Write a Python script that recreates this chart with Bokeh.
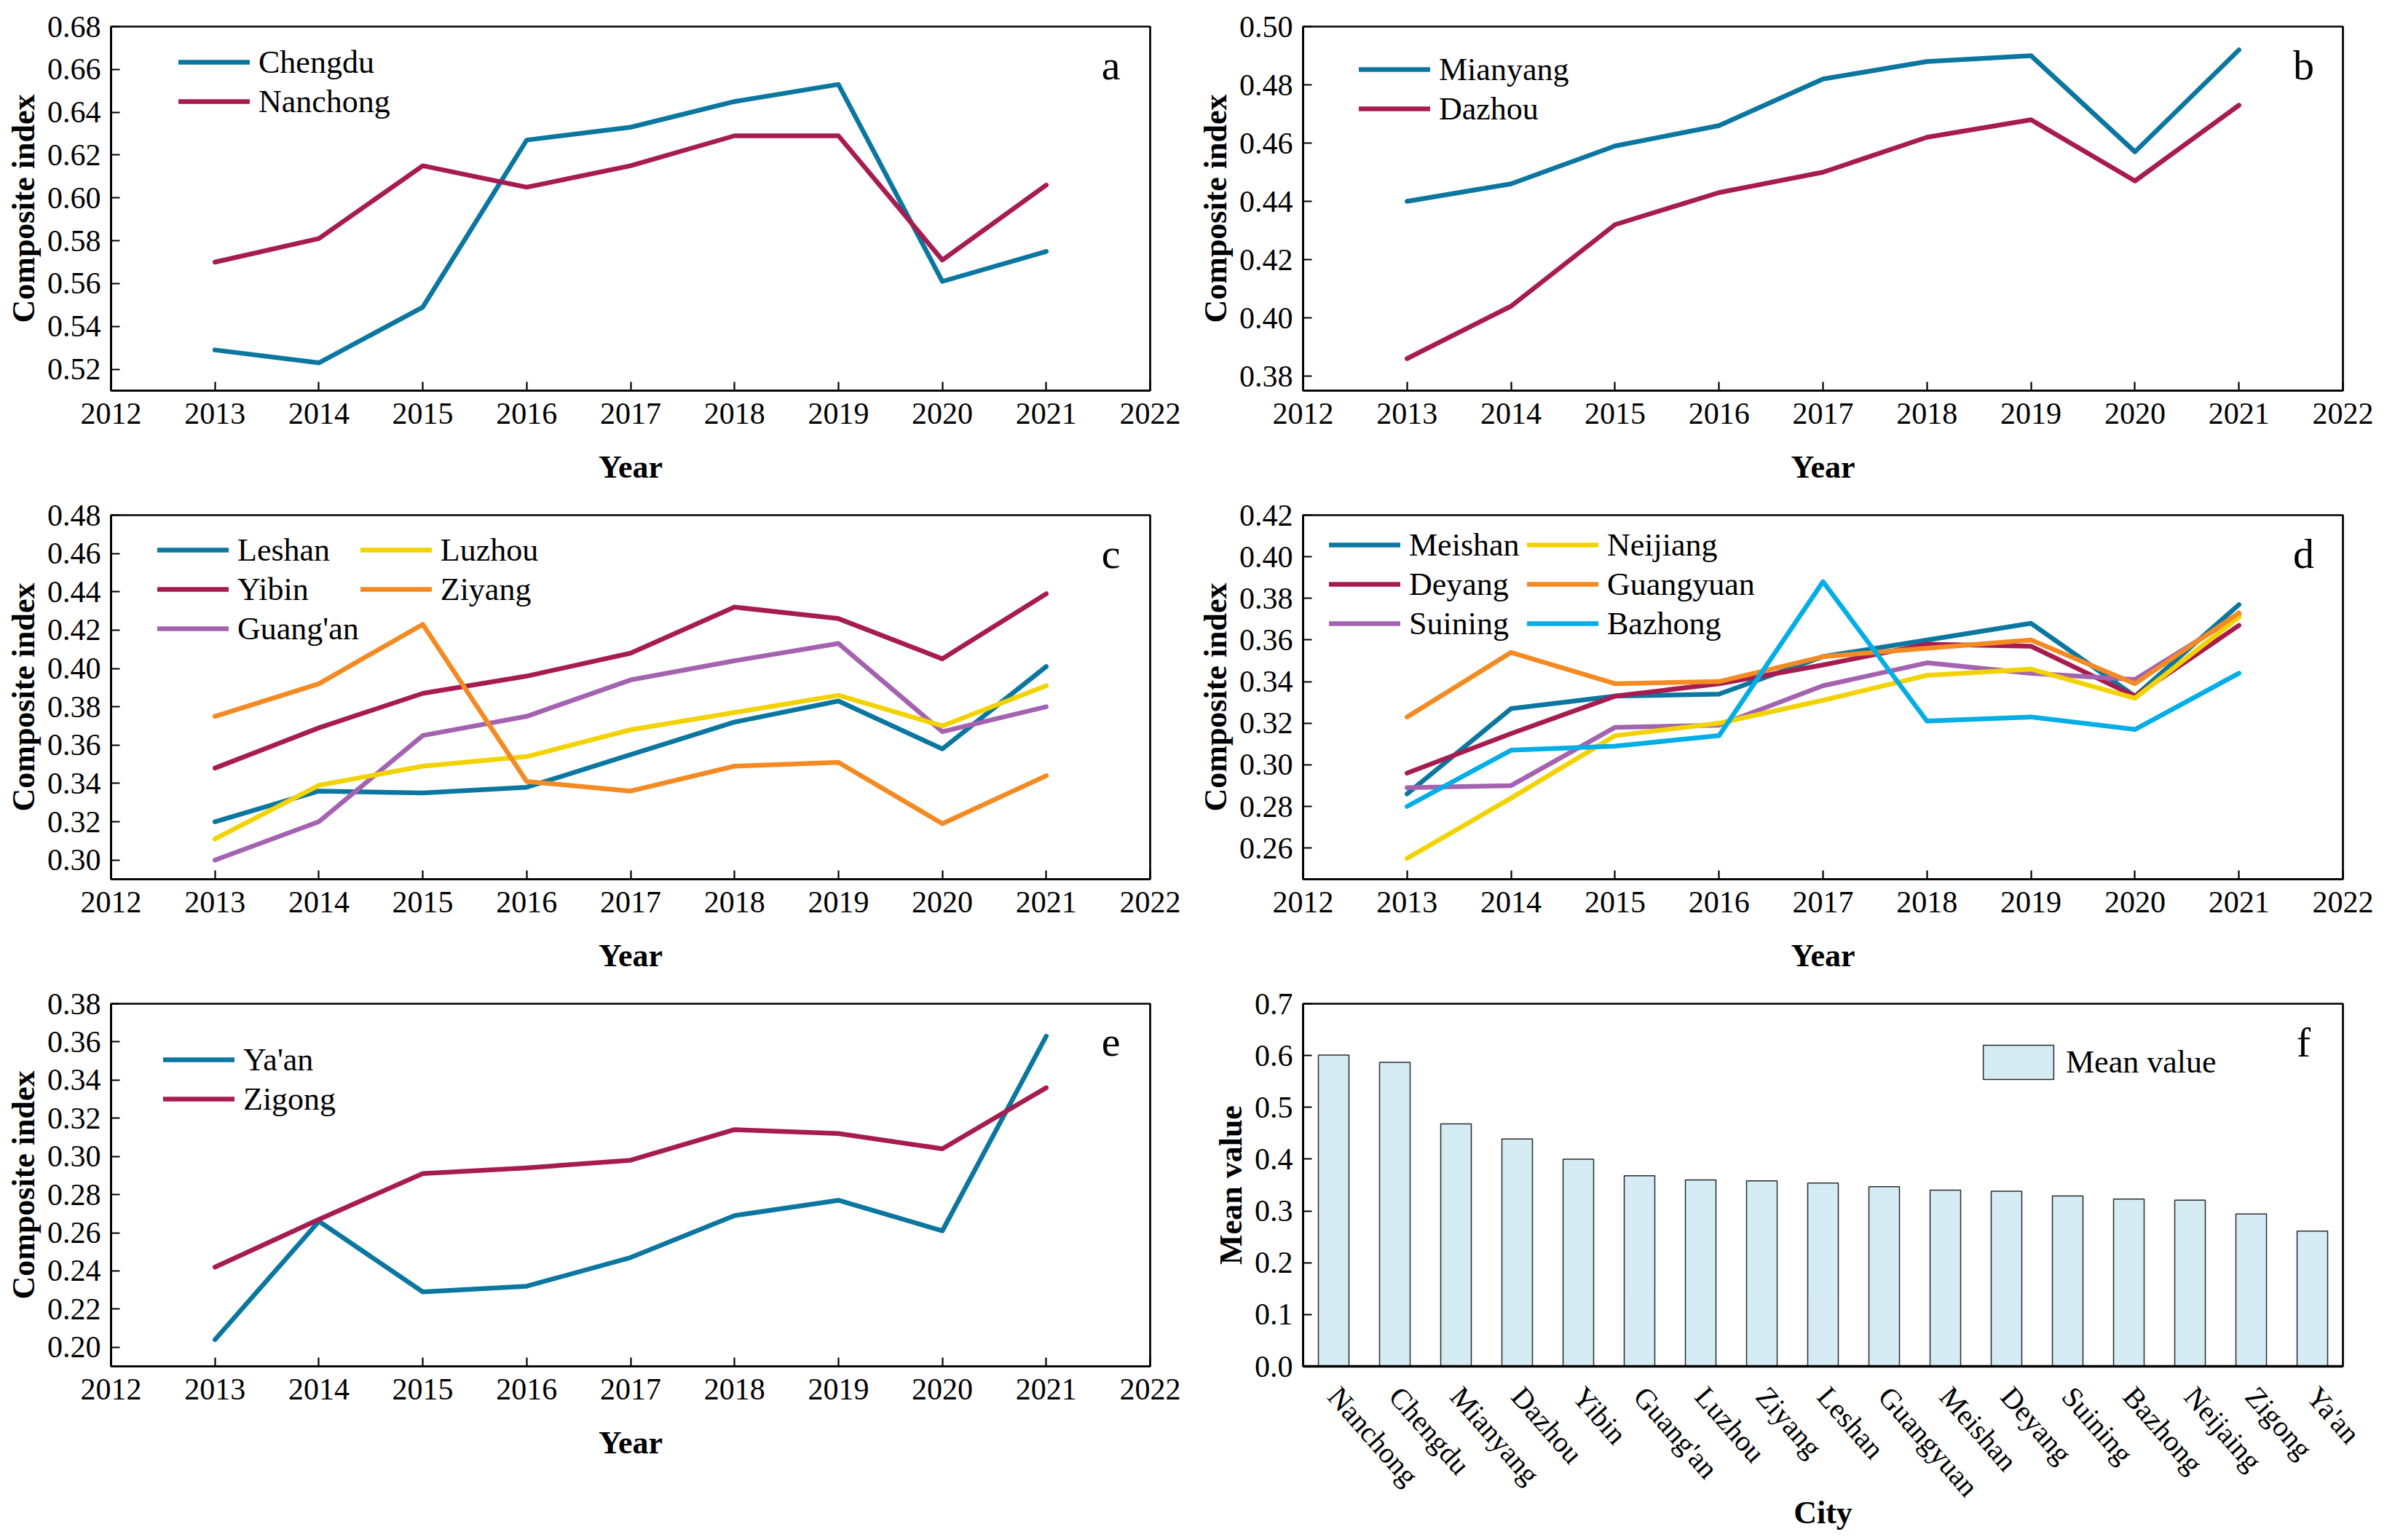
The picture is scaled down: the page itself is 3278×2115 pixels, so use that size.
from bokeh.plotting import figure
from bokeh.models import (Range1d, FactorRange, FixedTicker, NumeralTickFormatter,
                          Legend, LegendItem, Label)
from bokeh.layouts import column, row
from bokeh.embed import file_html
from bokeh.resources import INLINE

# ---------------- data ----------------
YEARS = [2013, 2014, 2015, 2016, 2017, 2018, 2019, 2020, 2021]
YEAR_TICKS = [2012, 2013, 2014, 2015, 2016, 2017, 2018, 2019, 2020, 2021, 2022]

# panel a
CHENGDU = [0.529, 0.523, 0.549, 0.627, 0.633, 0.645, 0.653, 0.561, 0.575]
NANCHONG = [0.570, 0.581, 0.615, 0.605, 0.615, 0.629, 0.629, 0.571, 0.606]
TICKS_A = [0.52, 0.54, 0.56, 0.58, 0.60, 0.62, 0.64, 0.66, 0.68]

# panel b
MIANYANG = [0.440, 0.446, 0.459, 0.466, 0.482, 0.488, 0.490, 0.457, 0.492]
DAZHOU = [0.386, 0.404, 0.432, 0.443, 0.450, 0.462, 0.468, 0.447, 0.473]
TICKS_B = [0.38, 0.40, 0.42, 0.44, 0.46, 0.48, 0.50]

# panel c
LESHAN = [0.320, 0.336, 0.335, 0.338, 0.355, 0.372, 0.383, 0.358, 0.401]
LUZHOU = [0.311, 0.339, 0.349, 0.354, 0.368, 0.377, 0.386, 0.370, 0.391]
YIBIN = [0.348, 0.369, 0.387, 0.396, 0.408, 0.432, 0.426, 0.405, 0.439]
ZIYANG = [0.375, 0.392, 0.423, 0.341, 0.336, 0.349, 0.351, 0.319, 0.344]
GUANGAN = [0.300, 0.320, 0.365, 0.375, 0.394, 0.404, 0.413, 0.367, 0.380]
TICKS_C = [0.30, 0.32, 0.34, 0.36, 0.38, 0.40, 0.42, 0.44, 0.46, 0.48]

# panel d
MEISHAN = [0.286, 0.327, 0.333, 0.334, 0.352, 0.360, 0.368, 0.333, 0.377]
NEIJIANG = [0.255, 0.284, 0.314, 0.320, 0.331, 0.343, 0.346, 0.332, 0.371]
DEYANG = [0.296, 0.315, 0.333, 0.339, 0.348, 0.358, 0.357, 0.333, 0.367]
GUANGYUAN = [0.323, 0.354, 0.339, 0.340, 0.352, 0.356, 0.360, 0.339, 0.373]
SUINING = [0.289, 0.290, 0.318, 0.319, 0.338, 0.349, 0.344, 0.341, 0.372]
BAZHONG = [0.280, 0.307, 0.309, 0.314, 0.388, 0.321, 0.323, 0.317, 0.344]
TICKS_D = [0.26, 0.28, 0.30, 0.32, 0.34, 0.36, 0.38, 0.40, 0.42]

# panel e
YAAN = [0.204, 0.266, 0.229, 0.232, 0.247, 0.269, 0.277, 0.261, 0.363]
ZIGONG = [0.242, 0.267, 0.291, 0.294, 0.298, 0.314, 0.312, 0.304, 0.336]
TICKS_E = [0.20, 0.22, 0.24, 0.26, 0.28, 0.30, 0.32, 0.34, 0.36, 0.38]

# panel f
CITIES = ["Nanchong", "Chengdu", "Mianyang", "Dazhou", "Yibin", "Guang'an", "Luzhou",
          "Ziyang", "Leshan", "Guangyuan", "Meishan", "Deyang", "Suining", "Bazhong",
          "Neijaing", "Zigong", "Ya'an"]
MEANS = [0.601, 0.587, 0.468, 0.439, 0.400, 0.368, 0.360, 0.358, 0.354, 0.347,
         0.340, 0.338, 0.329, 0.323, 0.321, 0.294, 0.261]
TICKS_F = [0.0, 0.1, 0.2, 0.3, 0.4, 0.5, 0.6, 0.7]

# ---------------- style ----------------
BLUE = "#0b77a0"
CRIMSON = "#a71c50"
YELLOW = "#f2d300"
ORANGE = "#f38a22"
PURPLE = "#a463b0"
SKY = "#02aee6"
BAR_FILL = "#d5ecf4"
FONT = "Liberation Serif"

FRAME_H = 500
ROW_BOTTOM = 143
LEFT_W, LEFT_BL, LEFT_BR = 1641, 152, 62      # frame 1427
RIGHT_W, RIGHT_BL, RIGHT_BR = 1621, 148, 45   # frame 1428
LETTER_TOP = 53
LINE_W = 6.5


def style(p, x_title, y_title, y_ticks, y_fmt):
    p.outline_line_color = "black"
    p.outline_line_width = 2.7
    p.xgrid.visible = False
    p.ygrid.visible = False
    p.background_fill_color = "white"
    p.border_fill_color = "white"
    for ax in (p.xaxis[0], p.yaxis[0]):
        ax.axis_line_color = "black"
        ax.axis_line_width = 2.7
        ax.major_tick_line_color = "black"
        ax.major_tick_line_width = 2.2
        ax.major_tick_in = 12
        ax.major_tick_out = 0
        ax.minor_tick_line_color = None
        ax.major_label_text_font = FONT
        ax.major_label_text_font_size = "42px"
        ax.major_label_text_color = "black"
        ax.axis_label_text_font = FONT
        ax.axis_label_text_font_size = "44px"
        ax.axis_label_text_font_style = "bold"
        ax.axis_label_text_color = "black"
    p.xaxis.axis_label = x_title
    p.yaxis.axis_label = y_title
    p.yaxis.ticker = FixedTicker(ticks=y_ticks)
    p.yaxis.formatter = NumeralTickFormatter(format=y_fmt)
    p.yaxis.major_label_standoff = 14
    p.yaxis.axis_label_standoff = 5


def add_letter(p, letter, x, y):
    p.add_layout(Label(x=x, y=y, text=letter, text_font=FONT, text_font_size="58px",
                       text_color="black", text_align="center", text_baseline="alphabetic"))


def line_panel(series, y0, y1, ticks, letter, leg_x, leg_c1, ncols, width, bl, br, top_b,
               bottom_b=ROW_BOTTOM, label_w=20):
    p = figure(width=width, height=top_b + FRAME_H + bottom_b,
               x_range=Range1d(2012, 2022), y_range=Range1d(y0, y1),
               output_backend="svg", toolbar_location=None,
               min_border_left=bl, min_border_right=br,
               min_border_top=top_b, min_border_bottom=bottom_b)
    style(p, "Year", "Composite index", ticks, "0.00")
    p.xaxis.ticker = FixedTicker(ticks=YEAR_TICKS)
    p.xaxis.major_label_standoff = 17
    p.xaxis.axis_label_standoff = 32
    items = []
    for name, vals, color in series:
        r = p.line(YEARS, vals, line_color=color, line_width=LINE_W,
                   line_cap="round", line_join="round")
        items.append(LegendItem(label=name, renderers=[r]))
    nrows = -(-len(items) // ncols)
    row_h, spc = 52, 2
    leg_h = nrows * row_h + (nrows - 1) * spc
    top = leg_c1 - row_h / 2
    leg = Legend(items=items, location=(leg_x, FRAME_H - top - leg_h), ncols=ncols,
                 orientation="vertical", glyph_width=98, glyph_height=row_h,
                 label_height=row_h, label_width=label_w, label_standoff=12, spacing=spc,
                 padding=0, margin=0, background_fill_alpha=0, border_line_alpha=0,
                 label_text_font=FONT, label_text_font_size="44px", label_text_color="black")
    p.add_layout(leg)
    fw = width - bl - br
    add_letter(p, letter, 2022 - 54 / fw * 10, y1 - LETTER_TOP / FRAME_H * (y1 - y0))
    return p


pa = line_panel([("Chengdu", CHENGDU, BLUE), ("Nanchong", NANCHONG, CRIMSON)],
                0.51, 0.68, TICKS_A, "a", 93, 49, 1, LEFT_W, LEFT_BL, LEFT_BR, 36)
pb = line_panel([("Mianyang", MIANYANG, BLUE), ("Dazhou", DAZHOU, CRIMSON)],
                0.375, 0.50, TICKS_B, "b", 77, 59, 1, RIGHT_W, RIGHT_BL, RIGHT_BR, 36)
pc = line_panel([("Leshan", LESHAN, BLUE), ("Yibin", YIBIN, CRIMSON), ("Guang'an", GUANGAN, PURPLE),
                 ("Luzhou", LUZHOU, YELLOW), ("Ziyang", ZIYANG, ORANGE)],
                0.29, 0.48, TICKS_C, "c", 64, 48, 2, LEFT_W, LEFT_BL, LEFT_BR, 28)
pd = line_panel([("Meishan", MEISHAN, BLUE), ("Deyang", DEYANG, CRIMSON), ("Suining", SUINING, PURPLE),
                 ("Neijiang", NEIJIANG, YELLOW), ("Guangyuan", GUANGYUAN, ORANGE),
                 ("Bazhong", BAZHONG, SKY)],
                0.245, 0.42, TICKS_D, "d", 36, 41, 2, RIGHT_W, RIGHT_BL, RIGHT_BR, 28,
                label_w=160)

ROW3_BOTTOM = 226
pe = line_panel([("Ya'an", YAAN, BLUE), ("Zigong", ZIGONG, CRIMSON)],
                0.19, 0.38, TICKS_E, "e", 72, 79, 1, LEFT_W, LEFT_BL, LEFT_BR, 28,
                bottom_b=ROW3_BOTTOM)

# panel f: bar chart
pf = figure(width=RIGHT_W, height=28 + FRAME_H + ROW3_BOTTOM,
            x_range=FactorRange(factors=CITIES, range_padding=0),
            y_range=Range1d(0, 0.7), output_backend="svg", toolbar_location=None,
            min_border_left=RIGHT_BL, min_border_right=RIGHT_BR, min_border_top=28,
            min_border_bottom=ROW3_BOTTOM)
style(pf, "City", "Mean value", TICKS_F, "0.0")
bars = pf.vbar(x=CITIES, top=MEANS, width=0.5, fill_color=BAR_FILL,
               line_color="#2b2b2b", line_width=1.5)
pf.xaxis.major_tick_in = 0
pf.xaxis.major_tick_out = 0
pf.xaxis.axis_line_width = 3.5
pf.xaxis.major_label_orientation = -0.85
pf.xaxis.major_label_text_font_size = "40px"
pf.xaxis.major_label_standoff = 34
pf.xaxis.axis_label_standoff = -29
legf = Legend(items=[LegendItem(label="Mean value", renderers=[bars])],
              location=(922, FRAME_H - 53 - 59), glyph_width=121, glyph_height=59,
              label_height=59, label_standoff=5, padding=0, margin=0,
              background_fill_alpha=0, border_line_alpha=0,
              label_text_font=FONT, label_text_font_size="44px", label_text_color="black")
pf.add_layout(legf)
fwf = RIGHT_W - RIGHT_BL - RIGHT_BR
add_letter(pf, "f", 17 - 54 / fwf * 17, 0.7 - LETTER_TOP / FRAME_H * 0.7)

layout = column(row(pa, pb), row(pc, pd), row(pe, pf))
open("out.html", "w").write(file_html(layout, INLINE))
